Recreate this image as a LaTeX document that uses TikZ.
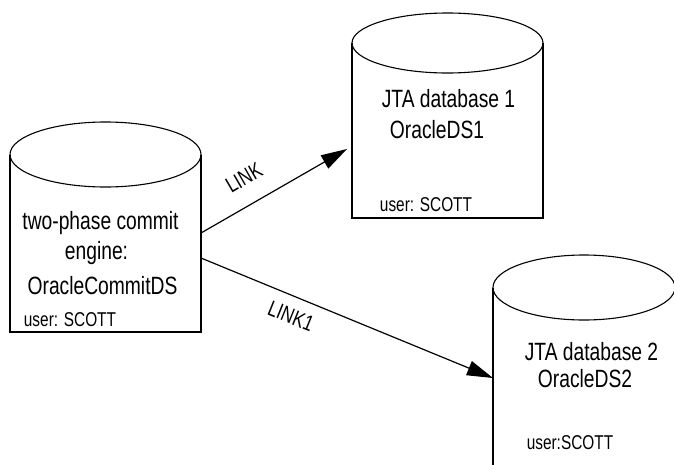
\documentclass[tikz,border=0pt]{standalone}
\usepackage{fontspec}
\setmainfont{Liberation Sans}
\usetikzlibrary{arrows.meta}
\newcommand\narrowtxt[1]{\scalebox{0.77}[1]{#1}}
\tikzset{
  cylside/.style={line width=1.7pt, line join=miter},
  cyltop/.style={line width=1.1pt},
  big/.style={font=\fontsize{25}{28}\selectfont, inner sep=0pt, anchor=base},
  small/.style={font=\fontsize{20}{23}\selectfont, inner sep=0pt, anchor=base},
  lbl/.style={font=\fontsize{22}{25}\selectfont, inner sep=0pt},
  link/.style={line width=1.2pt, -{Triangle[length=26pt,width=15pt]}}
}
\begin{document}
\begin{tikzpicture}[x=1pt,y=-1pt]
\useasboundingbox (0,0) rectangle (674,464);
\begin{scope}
\clip (0,0) rectangle (674,464);
% left cylinder
\draw[cyltop] (105.5,154.5) ellipse [x radius=95.5, y radius=32.5];
\draw[cylside] (10,154.5) -- (10,332) -- (201,332) -- (201,154.5);
% top-right cylinder
\draw[cyltop] (447.5,43) ellipse [x radius=95.5, y radius=30];
\draw[cylside] (352,43) -- (352,218) -- (543,218) -- (543,43);
% bottom-right cylinder
\draw[cyltop] (584,287.5) ellipse [x radius=91, y radius=32.5];
\draw[cylside] (493,287.5) -- (493,470) (675,287.5) -- (675,470);
\end{scope}
% anchors for connectors
\coordinate (engA) at (201,233);
\coordinate (engB) at (201,258);
\coordinate (db1) at (347,149);
\coordinate (db2) at (493,378);
% texts
\node[big] (t1) at (100.5,229) {\narrowtxt{two-phase commit}};
\node[big] (t2) at (96.5,259) {\narrowtxt{engine:}};
\node[big] (t3) at (102.5,294) {\narrowtxt{OracleCommitDS}};
\node[small] (t4) at (70,326) {\narrowtxt{user: SCOTT}};
\node[big] (d1a) at (448.5,107) {\narrowtxt{JTA database 1}};
\node[big] (d1b) at (437,138) {\narrowtxt{OracleDS1}};
\node[small] (d1c) at (426,211) {\narrowtxt{user: SCOTT}};
\node[big] (d2a) at (591.5,360) {\narrowtxt{JTA database 2}};
\node[big] (d2b) at (585,387) {\narrowtxt{OracleDS2}};
\node[small] (d2c) at (570,449) {\narrowtxt{user:SCOTT}};
% links
\draw[link] (engA) -- (db1);
\draw[link] (engB) -- (db2);
\node[lbl, rotate=30] (l1) at (244,178) {\narrowtxt{LINK}};
\node[lbl, rotate=-22] (l2) at (291,316) {\narrowtxt{LINK1}};
\end{tikzpicture}
\end{document}
